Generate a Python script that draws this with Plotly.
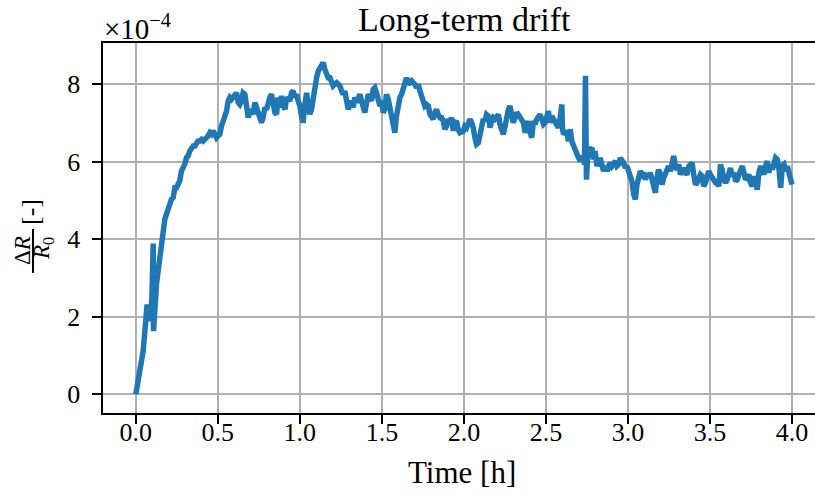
import plotly.graph_objects as go

# ---- data (time in hours, drift in units of 1e-4) ----
time_h = [
    0.000, 0.014, 0.024, 0.045, 0.055, 0.065, 0.069, 0.081, 0.089, 0.098,
    0.106, 0.108, 0.116, 0.126, 0.136, 0.146, 0.157, 0.167, 0.177, 0.187,
    0.197, 0.207, 0.217, 0.228, 0.238, 0.248, 0.258, 0.268, 0.278, 0.289,
    0.299, 0.309, 0.319, 0.329, 0.339, 0.350, 0.360, 0.370, 0.380, 0.390,
    0.400, 0.411, 0.421, 0.431, 0.441, 0.451, 0.461, 0.472, 0.482, 0.492,
    0.502, 0.512, 0.522, 0.533, 0.543, 0.553, 0.563, 0.573, 0.583, 0.593,
    0.604, 0.614, 0.624, 0.634, 0.644, 0.654, 0.665, 0.675, 0.685, 0.695,
    0.705, 0.715, 0.726, 0.736, 0.746, 0.756, 0.766, 0.776, 0.787, 0.797,
    0.807, 0.817, 0.827, 0.837, 0.848, 0.858, 0.868, 0.878, 0.888, 0.898,
    0.909, 0.919, 0.929, 0.939, 0.949, 0.959, 0.970, 0.980, 0.990, 1.000,
    1.010, 1.020, 1.030, 1.041, 1.051, 1.061, 1.071, 1.081, 1.091, 1.102,
    1.112, 1.122, 1.132, 1.142, 1.152, 1.163, 1.173, 1.183, 1.193, 1.203,
    1.213, 1.224, 1.234, 1.244, 1.254, 1.264, 1.274, 1.285, 1.295, 1.305,
    1.315, 1.325, 1.335, 1.346, 1.356, 1.366, 1.376, 1.386, 1.396, 1.407,
    1.417, 1.427, 1.437, 1.447, 1.457, 1.467, 1.478, 1.488, 1.498, 1.508,
    1.518, 1.528, 1.539, 1.549, 1.559, 1.569, 1.579, 1.589, 1.600, 1.610,
    1.620, 1.630, 1.640, 1.650, 1.661, 1.671, 1.681, 1.691, 1.701, 1.711,
    1.722, 1.732, 1.742, 1.752, 1.762, 1.772, 1.783, 1.793, 1.803, 1.813,
    1.823, 1.833, 1.843, 1.854, 1.864, 1.874, 1.884, 1.894, 1.904, 1.915,
    1.925, 1.935, 1.945, 1.955, 1.965, 1.976,
    1.996, 2.006, 2.016, 2.026, 2.037, 2.047, 2.057, 2.067, 2.077, 2.088,
    2.098, 2.108, 2.118, 2.128, 2.138, 2.149, 2.159, 2.169, 2.179, 2.189,
    2.200, 2.210, 2.220, 2.230, 2.240, 2.251, 2.261, 2.271, 2.281, 2.291,
    2.301, 2.312, 2.322, 2.332, 2.342, 2.352, 2.363, 2.373, 2.383, 2.393,
    2.403, 2.413, 2.424, 2.434, 2.444, 2.454, 2.464, 2.475, 2.485, 2.495,
    2.505, 2.515, 2.525, 2.536, 2.546, 2.556, 2.566, 2.576, 2.587, 2.597,
    2.601, 2.607, 2.617, 2.627, 2.637, 2.648, 2.658, 2.668, 2.678, 2.688,
    2.699, 2.709, 2.719, 2.729, 2.735, 2.741, 2.747, 2.756, 2.770, 2.780,
    2.790, 2.800, 2.811, 2.821, 2.831, 2.841, 2.851, 2.862, 2.872, 2.882,
    2.892, 2.902, 2.912, 2.923, 2.933, 2.943, 2.953, 2.963, 2.974, 2.984,
    2.994, 3.004, 3.014, 3.024, 3.035, 3.045, 3.055, 3.065, 3.075, 3.086,
    3.096, 3.106, 3.116, 3.126, 3.136, 3.147, 3.157, 3.167, 3.177, 3.187,
    3.198, 3.208, 3.218, 3.228, 3.238, 3.248, 3.259, 3.269, 3.279, 3.289,
    3.299, 3.310, 3.320, 3.330, 3.340, 3.350, 3.360, 3.371, 3.381, 3.391,
    3.401, 3.411, 3.422, 3.432, 3.442, 3.452, 3.462, 3.473, 3.483, 3.493,
    3.503, 3.513, 3.523, 3.534, 3.544, 3.554, 3.564, 3.574, 3.585, 3.595,
    3.605, 3.615, 3.625, 3.635, 3.646, 3.656, 3.666, 3.676, 3.686, 3.697,
    3.707, 3.717, 3.727, 3.737, 3.747, 3.758, 3.768, 3.778, 3.788, 3.798,
    3.809, 3.819, 3.829, 3.839, 3.849, 3.859, 3.870, 3.880, 3.890, 3.900,
    3.910, 3.921, 3.931, 3.941, 3.951, 3.961, 3.971, 3.982, 3.992, 4.000,
]

drift_e4 = [
    0.00, 0.26, 0.60, 1.12, 1.55, 2.06, 2.32, 1.89, 2.06, 2.49,
    3.89, 1.63, 2.32, 2.84, 3.18, 3.53, 3.87, 4.21, 4.52, 4.65,
    4.86, 4.90, 5.03, 5.08, 5.33, 5.33, 5.42, 5.51, 5.76, 5.85,
    5.94, 6.11, 6.15, 6.28, 6.37, 6.41, 6.41, 6.49, 6.54, 6.54,
    6.58, 6.54, 6.58, 6.62, 6.67, 6.75, 6.71, 6.80, 6.67, 6.62,
    6.67, 6.71, 6.92, 7.05, 7.18, 7.31, 7.57, 7.66, 7.61, 7.66,
    7.70, 7.78, 7.53, 7.48, 7.57, 7.78, 7.74, 7.40, 7.14, 7.35,
    7.27, 7.23, 7.53, 7.40, 7.31, 7.14, 7.01, 7.14, 7.40, 7.35,
    7.57, 7.66, 7.74, 7.48, 7.27, 7.23, 7.66, 7.40, 7.70, 7.48,
    7.35, 7.66, 7.61, 7.57, 7.78, 7.83, 7.66, 7.74, 7.57, 7.44,
    7.18, 7.01, 7.48, 7.78, 7.44, 7.23, 7.35, 7.70, 8.00, 8.17,
    8.34, 8.43, 8.47, 8.56, 8.39, 8.22, 8.17, 8.17, 8.09, 7.96,
    8.00, 8.04, 8.00, 7.96, 7.83, 7.74, 7.83, 7.57, 7.35, 7.48,
    7.57, 7.40, 7.66, 7.53, 7.70, 7.74, 7.57, 7.35, 7.27, 7.53,
    7.74, 7.66, 7.57, 7.87, 7.91, 7.78, 7.53, 7.44, 7.57, 7.27,
    7.35, 7.74, 7.61, 7.35, 7.27, 6.97, 6.75, 7.18, 7.53, 7.66,
    7.74, 7.87, 8.04, 8.17, 8.00, 8.04, 8.09, 8.04, 8.00, 7.91,
    8.00, 7.83, 7.66, 7.57, 7.44, 7.48, 7.44, 7.23, 7.14, 7.10,
    7.27, 7.35, 7.23, 7.14, 7.14, 7.05, 6.84, 6.92, 7.10, 7.01,
    7.14, 6.80, 7.01, 7.05, 6.84, 6.75,
    6.79, 6.92, 6.88, 7.05, 7.10, 7.01, 6.88, 6.62, 6.45, 6.49,
    6.71, 7.01, 7.10, 7.05, 7.22, 7.18, 6.88, 7.05, 7.14, 7.10,
    7.18, 7.22, 6.97, 6.79, 6.71, 6.92, 7.27, 7.35, 7.44, 7.18,
    7.01, 7.14, 7.27, 7.22, 7.14, 7.05, 7.01, 6.75, 6.97, 7.05,
    6.79, 6.62, 7.05, 6.97, 7.10, 7.18, 7.22, 7.10, 6.97, 7.01,
    7.18, 7.31, 7.01, 7.18, 7.10, 7.01, 6.92, 6.88, 7.14, 7.48,
    6.84, 6.71, 6.75, 6.79, 6.53, 6.84, 6.53, 6.40, 6.36, 6.19,
    6.10, 6.02, 6.15, 6.10, 5.93, 8.22, 5.54, 6.28, 6.36, 6.36,
    6.06, 6.28, 5.89, 6.02, 6.10, 5.93, 5.76, 5.89, 5.76, 5.89,
    5.97, 5.89, 5.93, 6.02, 5.89, 5.93, 6.10, 6.06, 5.97, 5.84,
    5.89, 5.76, 5.67, 5.50, 5.16, 5.03, 5.41, 5.59, 5.76, 5.67,
    5.72, 5.54, 5.67, 5.59, 5.72, 5.54, 5.33, 5.20, 5.59, 5.80,
    5.67, 5.41, 5.59, 5.72, 5.80, 5.89, 5.76, 5.93, 6.15, 5.89,
    5.80, 5.93, 5.67, 5.76, 5.84, 5.72, 5.67, 5.89, 5.93, 5.97,
    5.67, 5.41, 5.46, 5.59, 5.67, 5.63, 5.37, 5.46, 5.67, 5.76,
    5.67, 5.59, 5.50, 5.46, 5.46, 5.37, 5.93, 5.80, 5.54, 5.46,
    5.54, 5.76, 5.84, 5.63, 5.72, 5.50, 5.54, 5.67, 5.80, 5.89,
    5.72, 5.54, 5.59, 5.67, 5.46, 5.37, 5.63, 5.50, 5.28, 5.72,
    5.89, 5.80, 5.67, 5.89, 6.02, 5.72, 5.93, 5.80, 5.97, 6.10,
    6.06, 5.80, 5.33, 5.89, 5.93, 5.76, 5.89, 5.72, 5.59, 5.41,
]

x_ticks = [0.0, 0.5, 1.0, 1.5, 2.0, 2.5, 3.0, 3.5, 4.0]
y_ticks = [0, 2, 4, 6, 8]

TITLE = "Long-term drift"
X_LABEL = "Time [h]"

# ---- layout geometry (pixels) ----
W, H = 815, 496
L, R, T, B = 103, 0, 43, 83
PW, PH = W - L - R, H - T - B


def px_x(p):
    return (p - L) / PW


def px_y(p):
    return (H - B - p) / PH


FONT = "Liberation Serif"
BLUE = "#1f77b4"

fig = go.Figure()
fig.add_trace(go.Scatter(
    x=time_h, y=drift_e4, mode="lines",
    line=dict(color=BLUE, width=5.5),
    hoverinfo="skip", showlegend=False, cliponaxis=False,
))

axis_common = dict(
    showgrid=True, gridcolor="#b0b0b0", gridwidth=2,
    zeroline=False, showline=True, linecolor="black", linewidth=2,
    ticks="outside", ticklen=9, tickwidth=2, tickcolor="black",
    tickfont=dict(family=FONT, size=26, color="black"),
    automargin=False,
)

fig.update_layout(
    width=W, height=H,
    margin=dict(l=L, r=R, t=T, b=B, pad=0, autoexpand=False),
    paper_bgcolor="white", plot_bgcolor="white",
    xaxis=dict(range=[-0.2, 4.1402], tickvals=x_ticks,
               ticktext=[f"{v:.1f}" for v in x_ticks], mirror=True,
               ticklabelstandoff=-14, **axis_common),
    yaxis=dict(range=[-0.4826, 9.066], tickvals=y_ticks,
               ticktext=[f"{v}\u00a0" for v in y_ticks], mirror=False,
               **axis_common),
    font=dict(family=FONT, color="black"),
)

ann = []
# title
ann.append(dict(text=TITLE, x=px_x(464), y=px_y(19), xref="paper", yref="paper",
                xanchor="center", yanchor="middle", showarrow=False,
                font=dict(family=FONT, size=34)))
# x label
ann.append(dict(text=X_LABEL, x=px_x(462), y=px_y(472), xref="paper", yref="paper",
                xanchor="center", yanchor="middle", showarrow=False,
                font=dict(family=FONT, size=31)))
# offset text
ann.append(dict(text="×10<sup>−4</sup>", x=px_x(102), y=px_y(27), xref="paper", yref="paper",
                xanchor="left", yanchor="middle", showarrow=False,
                font=dict(family=FONT, size=29)))
# y label: fraction ΔR / R0 [-]
ann.append(dict(text="Δ<i>R</i>", x=px_x(22), y=px_y(251), xref="paper", yref="paper",
                xanchor="center", yanchor="middle", showarrow=False, textangle=-90,
                font=dict(family=FONT, size=23)))
ann.append(dict(text="<i>R</i><sub>0</sub>", x=px_x(43), y=px_y(249), xref="paper", yref="paper",
                xanchor="center", yanchor="middle", showarrow=False, textangle=-90,
                font=dict(family=FONT, size=23)))
ann.append(dict(text="[-]", x=px_x(30), y=px_y(212), xref="paper", yref="paper",
                xanchor="center", yanchor="middle", showarrow=False, textangle=-90,
                font=dict(family=FONT, size=26)))
fig.update_layout(annotations=ann)

fig.add_shape(type="line", xref="paper", yref="paper",
              x0=px_x(33), x1=px_x(33), y0=px_y(229), y1=px_y(273),
              line=dict(color="black", width=2))

fig.write_html("out.html", config={"displayModeBar": False},
               post_script="document.body.style.margin='0';")
